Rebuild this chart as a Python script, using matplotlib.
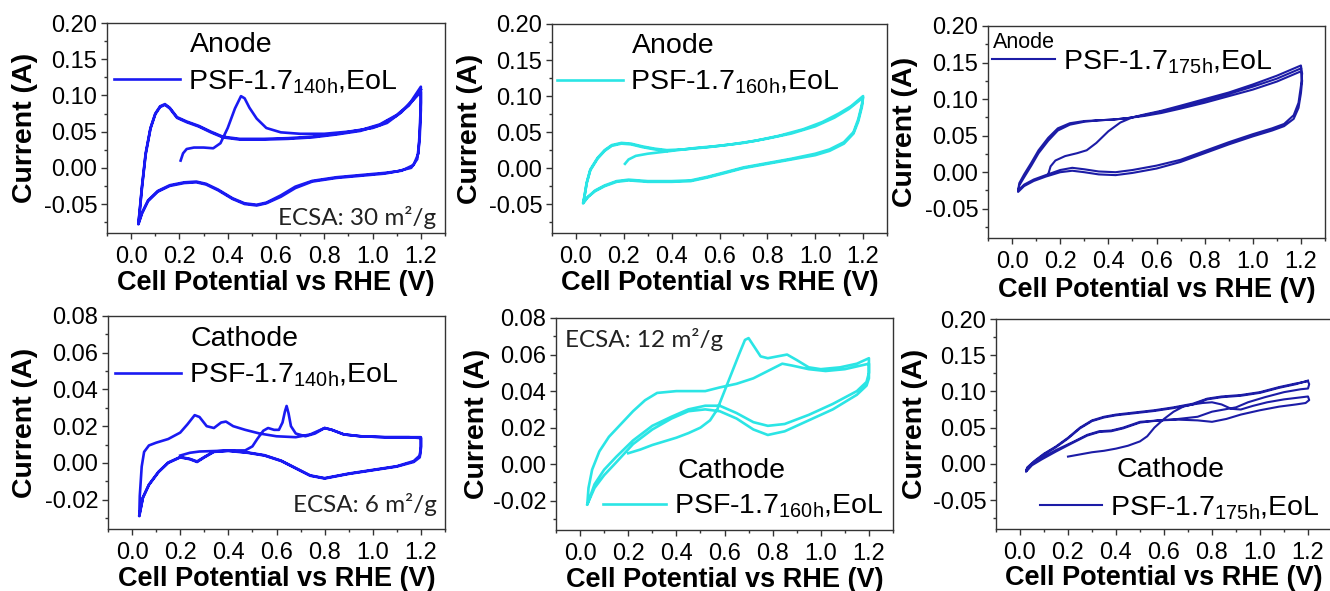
import matplotlib
matplotlib.use("Agg")
import matplotlib.pyplot as plt
from matplotlib.ticker import MultipleLocator

# ---------------- data (potential V vs RHE, current A) ----------------
# Anode, 140h
a140_v = [0.205, 0.215, 0.23, 0.26, 0.30, 0.34, 0.37, 0.40, 0.43, 0.455, 0.47, 0.49, 0.52, 0.56, 0.62, 0.70, 0.80, 0.90, 1.00, 1.06, 1.12, 1.16, 1.20,
          1.20, 1.195, 1.19, 1.17, 1.12, 1.05, 0.95, 0.85, 0.75, 0.68, 0.62, 0.56, 0.52, 0.47, 0.42, 0.36, 0.31, 0.27, 0.22, 0.16, 0.11, 0.07, 0.045, 0.03,
          0.035, 0.045, 0.06, 0.08, 0.10, 0.12, 0.14, 0.16, 0.19, 0.23, 0.28, 0.33, 0.38, 0.45, 0.55, 0.65, 0.75, 0.85, 0.95, 1.03, 1.10, 1.15, 1.20,
          1.20, 1.195, 1.185, 1.16, 1.10, 1.05, 0.95, 0.85, 0.75, 0.68, 0.62, 0.56, 0.52, 0.47, 0.42, 0.36, 0.31, 0.27, 0.22, 0.16, 0.11, 0.07, 0.045, 0.03,
          0.035, 0.045, 0.06, 0.08, 0.10, 0.12, 0.14, 0.16, 0.19, 0.23, 0.28, 0.33, 0.38, 0.45, 0.55, 0.65, 0.75, 0.85, 0.95, 1.03, 1.10, 1.15, 1.20]
a140_i = [0.010, 0.020, 0.026, 0.028, 0.028, 0.027, 0.034, 0.055, 0.082, 0.099, 0.096, 0.083, 0.068, 0.055, 0.049, 0.047, 0.047, 0.050, 0.055, 0.062, 0.077, 0.092, 0.112,
          0.090, 0.050, 0.020, 0.004, -0.004, -0.007, -0.010, -0.013, -0.018, -0.026, -0.038, -0.048, -0.051, -0.049, -0.042, -0.030, -0.022, -0.019, -0.020, -0.024, -0.032, -0.045, -0.062, -0.077,
          -0.060, -0.025, 0.020, 0.055, 0.075, 0.085, 0.088, 0.083, 0.070, 0.064, 0.058, 0.050, 0.043, 0.040, 0.040, 0.041, 0.043, 0.047, 0.052, 0.060, 0.073, 0.087, 0.105,
          0.080, 0.040, 0.012, 0.000, -0.005, -0.008, -0.011, -0.014, -0.019, -0.028, -0.040, -0.049, -0.052, -0.050, -0.043, -0.031, -0.023, -0.020, -0.021, -0.025, -0.033, -0.046, -0.063, -0.078,
          -0.062, -0.027, 0.018, 0.054, 0.074, 0.084, 0.087, 0.082, 0.069, 0.063, 0.057, 0.049, 0.042, 0.039, 0.039, 0.040, 0.042, 0.046, 0.051, 0.059, 0.072, 0.086, 0.108]

# Anode, 160h
a160_v = [0.205, 0.22, 0.25, 0.30, 0.35, 0.40, 0.45, 0.50, 0.60, 0.70, 0.80, 0.90, 1.00, 1.08, 1.14, 1.20,
          1.195, 1.18, 1.16, 1.12, 1.06, 1.00, 0.90, 0.80, 0.70, 0.62, 0.55, 0.48, 0.40, 0.30, 0.22, 0.17, 0.12, 0.08, 0.05, 0.03,
          0.035, 0.045, 0.06, 0.09, 0.12, 0.15, 0.19, 0.23, 0.28, 0.33, 0.38, 0.45, 0.55, 0.65, 0.75, 0.85, 0.95, 1.03, 1.10, 1.15, 1.20,
          1.195, 1.18, 1.16, 1.12, 1.06, 1.00, 0.90, 0.80, 0.70, 0.62, 0.55, 0.48, 0.40, 0.30, 0.22, 0.17, 0.12, 0.08, 0.05, 0.03,
          0.035, 0.045, 0.06, 0.09, 0.12, 0.15, 0.19, 0.23, 0.28, 0.33, 0.38]
a160_i = [0.006, 0.012, 0.017, 0.020, 0.022, 0.024, 0.026, 0.028, 0.031, 0.035, 0.041, 0.048, 0.058, 0.070, 0.082, 0.098,
          0.085, 0.065, 0.048, 0.034, 0.024, 0.018, 0.012, 0.006, 0.000, -0.007, -0.013, -0.018, -0.019, -0.019, -0.017, -0.019, -0.025, -0.032, -0.040, -0.048,
          -0.040, -0.020, -0.002, 0.014, 0.025, 0.032, 0.035, 0.034, 0.030, 0.027, 0.025, 0.026, 0.029, 0.033, 0.038, 0.045, 0.054, 0.064, 0.076, 0.086, 0.100,
          0.088, 0.068, 0.050, 0.036, 0.026, 0.020, 0.013, 0.007, 0.001, -0.006, -0.012, -0.017, -0.018, -0.018, -0.016, -0.018, -0.024, -0.031, -0.040, -0.049,
          -0.041, -0.021, -0.003, 0.013, 0.024, 0.031, 0.034, 0.033, 0.029, 0.026, 0.024]

# Anode, 175h
a175_v = [0.15, 0.16, 0.18, 0.22, 0.27, 0.31, 0.35, 0.40, 0.45, 0.50, 0.55, 0.62, 0.70, 0.80, 0.90, 1.00, 1.10, 1.20,
          1.205, 1.20, 1.19, 1.17, 1.13, 1.08, 1.00, 0.90, 0.80, 0.70, 0.60, 0.50, 0.43, 0.36, 0.30, 0.25, 0.20, 0.14, 0.09, 0.05, 0.025,
          0.03, 0.05, 0.08, 0.11, 0.15, 0.19, 0.24, 0.30, 0.36, 0.42, 0.48, 0.55, 0.62, 0.70, 0.80, 0.90, 1.00, 1.10, 1.20,
          1.205, 1.20, 1.19, 1.17, 1.13, 1.08, 1.00, 0.90, 0.80, 0.70, 0.60, 0.50, 0.43, 0.36, 0.30, 0.25, 0.20, 0.14, 0.09, 0.05, 0.025,
          0.03, 0.05, 0.08, 0.11, 0.15, 0.19, 0.24, 0.30, 0.36, 0.42, 0.48, 0.55, 0.62, 0.70, 0.80, 0.90, 1.00, 1.10, 1.20]
a175_i = [-0.003, 0.008, 0.016, 0.022, 0.026, 0.030, 0.040, 0.056, 0.068, 0.075, 0.079, 0.084, 0.091, 0.100, 0.109, 0.120, 0.132, 0.146,
          0.135, 0.118, 0.095, 0.078, 0.066, 0.060, 0.052, 0.041, 0.029, 0.017, 0.009, 0.003, 0.000, 0.001, 0.004, 0.006, 0.003, -0.004, -0.010, -0.017, -0.025,
          -0.015, -0.003, 0.013, 0.030, 0.047, 0.060, 0.067, 0.070, 0.071, 0.072, 0.074, 0.077, 0.081, 0.087, 0.095, 0.104, 0.113, 0.124, 0.138,
          0.125, 0.108, 0.088, 0.073, 0.063, 0.057, 0.049, 0.038, 0.026, 0.014, 0.005, -0.001, -0.004, -0.003, 0.000, 0.002, 0.000, -0.006, -0.012, -0.019, -0.027,
          -0.018, -0.007, 0.009, 0.026, 0.043, 0.057, 0.065, 0.069, 0.071, 0.072, 0.074, 0.078, 0.083, 0.089, 0.098, 0.107, 0.117, 0.128, 0.142]

# Cathode, 140h
c140_v = [0.20, 0.24, 0.28, 0.35, 0.42, 0.47, 0.50, 0.52, 0.545, 0.565, 0.59, 0.61, 0.625, 0.635, 0.642, 0.65, 0.66, 0.68, 0.72, 0.76, 0.80, 0.83, 0.88, 0.95, 1.05, 1.15, 1.20,
          1.20, 1.195, 1.17, 1.10, 1.00, 0.90, 0.80, 0.74, 0.68, 0.62, 0.55, 0.48, 0.40, 0.34, 0.30, 0.27, 0.24, 0.20, 0.15, 0.11, 0.07, 0.045, 0.03,
          0.032, 0.04, 0.05, 0.07, 0.10, 0.15, 0.20, 0.23, 0.26, 0.28, 0.31, 0.34, 0.37, 0.39, 0.42, 0.47, 0.53, 0.60, 0.68, 0.74, 0.80, 0.83, 0.88, 0.95, 1.05, 1.15, 1.20,
          1.20, 1.195, 1.17, 1.10, 1.00, 0.90, 0.80, 0.74, 0.68, 0.62, 0.55, 0.48, 0.40, 0.34, 0.30, 0.27, 0.24, 0.20, 0.15, 0.11, 0.07, 0.045, 0.03]
c140_i = [0.0040, 0.0055, 0.0062, 0.0065, 0.0068, 0.0068, 0.0090, 0.0130, 0.0175, 0.0190, 0.0180, 0.0180, 0.0220, 0.0280, 0.0310, 0.0270, 0.0200, 0.0160, 0.0145, 0.0160, 0.0190, 0.0180, 0.0155, 0.0145, 0.0140, 0.0140, 0.0135,
          0.0080, 0.0030, 0.0005, -0.0020, -0.0040, -0.0060, -0.0085, -0.0070, -0.0030, 0.0010, 0.0040, 0.0055, 0.0065, 0.0060, 0.0030, 0.0005, 0.0020, 0.0030, 0.0000, -0.0050, -0.0120, -0.0190, -0.0290,
          -0.0180, -0.0020, 0.0060, 0.0095, 0.0110, 0.0130, 0.0165, 0.0210, 0.0260, 0.0250, 0.0200, 0.0190, 0.0220, 0.0225, 0.0200, 0.0180, 0.0160, 0.0145, 0.0140, 0.0155, 0.0190, 0.0180, 0.0155, 0.0145, 0.0140, 0.0140, 0.0140,
          0.0090, 0.0040, 0.0010, -0.0018, -0.0038, -0.0058, -0.0083, -0.0068, -0.0028, 0.0012, 0.0042, 0.0057, 0.0067, 0.0062, 0.0032, 0.0008, 0.0022, 0.0032, 0.0002, -0.0048, -0.0118, -0.0188, -0.0285]

# Cathode, 160h
c160_v = [0.20, 0.25, 0.30, 0.35, 0.40, 0.45, 0.50, 0.54, 0.57, 0.60, 0.63, 0.66, 0.685, 0.70, 0.72, 0.75, 0.78, 0.82, 0.86, 0.90, 0.95, 1.00, 1.08, 1.15, 1.20,
          1.20, 1.19, 1.15, 1.05, 0.95, 0.85, 0.78, 0.72, 0.65, 0.58, 0.52, 0.45, 0.38, 0.30, 0.22, 0.15, 0.10, 0.06, 0.03,
          0.035, 0.05, 0.08, 0.12, 0.17, 0.22, 0.27, 0.32, 0.40, 0.47, 0.52, 0.58, 0.65, 0.72, 0.78, 0.84, 0.88, 0.95, 1.02, 1.10, 1.20,
          1.20, 1.19, 1.15, 1.05, 0.95, 0.85, 0.78, 0.72, 0.65, 0.58, 0.52, 0.45, 0.38, 0.30, 0.22, 0.15, 0.10, 0.06, 0.03]
c160_i = [0.006, 0.008, 0.0105, 0.0125, 0.0145, 0.017, 0.020, 0.024, 0.030, 0.040, 0.050, 0.060, 0.068, 0.069, 0.065, 0.059, 0.058, 0.059, 0.060, 0.057, 0.053, 0.052, 0.053, 0.055, 0.058,
          0.050, 0.045, 0.040, 0.033, 0.027, 0.022, 0.021, 0.023, 0.028, 0.032, 0.032, 0.030, 0.026, 0.021, 0.013, 0.004, -0.003, -0.011, -0.022,
          -0.013, -0.003, 0.007, 0.015, 0.022, 0.029, 0.035, 0.039, 0.040, 0.040, 0.040, 0.042, 0.044, 0.047, 0.051, 0.055, 0.054, 0.052, 0.051, 0.052, 0.055,
          0.047, 0.043, 0.038, 0.030, 0.024, 0.018, 0.016, 0.019, 0.025, 0.029, 0.030, 0.029, 0.025, 0.019, 0.011, 0.001, -0.006, -0.013, -0.022]

# Cathode, 175h
c175_v = [0.20, 0.25, 0.30, 0.35, 0.40, 0.45, 0.50, 0.53, 0.56, 0.60, 0.64, 0.68, 0.72, 0.76, 0.80, 0.84, 0.88, 0.92, 0.97, 1.03, 1.10, 1.15, 1.20,
          1.205, 1.19, 1.15, 1.08, 1.00, 0.92, 0.86, 0.80, 0.74, 0.66, 0.58, 0.50, 0.43, 0.38, 0.33, 0.28, 0.22, 0.15, 0.09, 0.05, 0.025,
          0.03, 0.06, 0.10, 0.15, 0.20, 0.25, 0.30, 0.35, 0.40, 0.48, 0.56, 0.64, 0.72, 0.78, 0.84, 0.92, 1.00, 1.08, 1.15, 1.20,
          1.205, 1.20, 1.17, 1.10, 1.02, 0.95, 0.90, 0.85, 0.80, 0.74, 0.66, 0.58, 0.50, 0.43, 0.38, 0.33, 0.28, 0.22, 0.15, 0.09, 0.05, 0.025,
          0.03, 0.06, 0.10, 0.15, 0.20, 0.25, 0.30, 0.35, 0.40, 0.48, 0.56, 0.64, 0.72, 0.78, 0.84, 0.92, 1.00, 1.08, 1.15, 1.20]
c175_i = [0.010, 0.013, 0.016, 0.018, 0.021, 0.025, 0.031, 0.038, 0.050, 0.062, 0.072, 0.079, 0.082, 0.084, 0.085, 0.082, 0.076, 0.075, 0.080, 0.085, 0.089, 0.091, 0.093,
          0.088, 0.084, 0.082, 0.079, 0.074, 0.068, 0.062, 0.058, 0.060, 0.061, 0.060, 0.058, 0.050, 0.046, 0.045, 0.040, 0.030, 0.019, 0.008, 0.000, -0.010,
          -0.005, 0.004, 0.014, 0.024, 0.036, 0.050, 0.060, 0.065, 0.068, 0.071, 0.074, 0.078, 0.083, 0.090, 0.093, 0.095, 0.099, 0.106, 0.111, 0.114,
          0.110, 0.104, 0.103, 0.099, 0.092, 0.085, 0.078, 0.075, 0.072, 0.065, 0.062, 0.060, 0.057, 0.049, 0.045, 0.044, 0.039, 0.029, 0.017, 0.006, -0.002, -0.011,
          -0.006, 0.003, 0.013, 0.023, 0.035, 0.049, 0.059, 0.064, 0.067, 0.070, 0.073, 0.077, 0.082, 0.089, 0.092, 0.094, 0.098, 0.105, 0.110, 0.115]

labels = ["PSF-1.7$_{140h}$,EoL", "PSF-1.7$_{160h}$,EoL", "PSF-1.7$_{175h}$,EoL"]
electrodes = ["Anode", "Cathode"]
ecsa_texts = ["ECSA: 30 m²/g", "ECSA: 6 m²/g", "ECSA: 12 m²/g"]

# ---------------- style ----------------
plt.rcParams['font.family'] = ['Liberation Sans', 'DejaVu Sans']
plt.rcParams['mathtext.default'] = 'regular'

c_blue = '#1a1af2'
c_cyan = '#2be5e5'
c_navy = '#1c1ca6'

W, H = 1330, 591
fig = plt.figure(figsize=(W / 100, H / 100), dpi=100)

LEG_FS = 20.5
TICK_FS = 17
ECSA_FS = 17.5


def add_ax(x0, y0, x1, y1):
    return fig.add_axes([x0 / W, 1 - y1 / H, (x1 - x0) / W, (y1 - y0) / H])


def style(ax, ylim, ymaj, ymin, fmt, ylab_x, xlab_y):
    ax.set_xlim(-0.1, 1.3)
    ax.set_ylim(*ylim)
    ax.xaxis.set_major_locator(MultipleLocator(0.2))
    ax.xaxis.set_minor_locator(MultipleLocator(0.1))
    ax.yaxis.set_major_locator(MultipleLocator(ymaj))
    ax.yaxis.set_minor_locator(MultipleLocator(ymin))
    ax.yaxis.set_major_formatter(plt.FormatStrFormatter(fmt))
    ax.xaxis.set_major_formatter(plt.FormatStrFormatter('%.1f'))
    ax.tick_params(which='both', direction='out', top=False, right=False, color='#333333', width=1.0)
    ax.tick_params(which='major', length=4.5)
    ax.tick_params(which='minor', length=2.5)
    ax.tick_params(axis='x', labelsize=TICK_FS, pad=5)
    ax.tick_params(axis='y', labelsize=TICK_FS, pad=2.5)
    for s in ax.spines.values():
        s.set_color('#333333')
        s.set_linewidth(1.0)
    ax.set_xlabel('Cell Potential vs RHE (V)', fontsize=19.5, fontweight='bold', va='center')
    ax.set_ylabel('Current (A)', fontsize=20.5, fontweight='bold', va='center')
    ax.xaxis.set_label_coords(0.5, xlab_y)
    ax.yaxis.set_label_coords(ylab_x, 0.5)


def leg(ax, line, label, anchor, handlelength=2.3):
    ax.legend([line], [label], loc='center left', bbox_to_anchor=anchor, frameon=False,
              fontsize=LEG_FS, handlelength=handlelength, handletextpad=0.28, borderpad=0, borderaxespad=0)


# --- top row ---
ax1 = add_ax(107, 23, 445, 233)
l1, = ax1.plot(a140_v, a140_i, color=c_blue, lw=1.9)
style(ax1, (-0.09, 0.20), 0.05, 0.025, '%.2f', -0.243, -0.24)
leg(ax1, l1, labels[0], (0.022, 0.72))
ax1.text(0.245, 0.895, electrodes[0], transform=ax1.transAxes, fontsize=LEG_FS, va='center', ha='left')
ax1.text(0.975, 0.075, ecsa_texts[0], transform=ax1.transAxes, fontsize=ECSA_FS, family=['Lato', 'DejaVu Sans'], va='center', ha='right', color='#222222')

ax2 = add_ax(552, 24, 887, 233)
l2, = ax2.plot(a160_v, a160_i, color=c_cyan, lw=1.9)
style(ax2, (-0.09, 0.20), 0.05, 0.025, '%.2f', -0.245, -0.24)
leg(ax2, l2, labels[1], (0.015, 0.72))
ax2.text(0.24, 0.895, electrodes[0], transform=ax2.transAxes, fontsize=LEG_FS, va='center', ha='left')

ax3 = add_ax(988, 26, 1325, 238)
l3, = ax3.plot(a175_v, a175_i, color=c_navy, lw=1.5)
style(ax3, (-0.09, 0.20), 0.05, 0.025, '%.2f', -0.246, -0.245)
leg(ax3, l3, labels[2], (0.012, 0.83), handlelength=2.2)
ax3.text(0.015, 0.92, electrodes[0], transform=ax3.transAxes, fontsize=15.5, va='center', ha='left')

# --- bottom row ---
ax4 = add_ax(108, 316, 445, 529)
l4, = ax4.plot(c140_v, c140_i, color=c_blue, lw=1.9)
style(ax4, (-0.036, 0.08), 0.02, 0.01, '%.2f', -0.245, -0.235)
leg(ax4, l4, labels[0], (0.022, 0.72))
ax4.text(0.245, 0.89, electrodes[1], transform=ax4.transAxes, fontsize=LEG_FS, va='center', ha='left')
ax4.text(0.975, 0.115, ecsa_texts[1], transform=ax4.transAxes, fontsize=ECSA_FS, family=['Lato', 'DejaVu Sans'], va='center', ha='right', color='#222222')

ax5 = add_ax(556, 318, 893, 530)
l5, = ax5.plot(c160_v, c160_i, color=c_cyan, lw=1.9)
style(ax5, (-0.036, 0.08), 0.02, 0.01, '%.2f', -0.234, -0.235)
leg(ax5, l5, labels[1], (0.14, 0.11), handlelength=2.2)
ax5.text(0.36, 0.28, electrodes[1], transform=ax5.transAxes, fontsize=LEG_FS, va='center', ha='left')
ax5.text(0.027, 0.9, ecsa_texts[2], transform=ax5.transAxes, fontsize=ECSA_FS, family=['Lato', 'DejaVu Sans'], va='center', ha='left', color='#222222')

ax6 = add_ax(996, 319, 1332, 529)
l6, = ax6.plot(c175_v, c175_i, color=c_navy, lw=1.5)
style(ax6, (-0.09, 0.20), 0.05, 0.025, '%.2f', -0.241, -0.235)
leg(ax6, l6, labels[2], (0.13, 0.10), handlelength=2.2)
ax6.text(0.36, 0.28, electrodes[1], transform=ax6.transAxes, fontsize=LEG_FS, va='center', ha='left')

fig.savefig('out.png', dpi=100)
